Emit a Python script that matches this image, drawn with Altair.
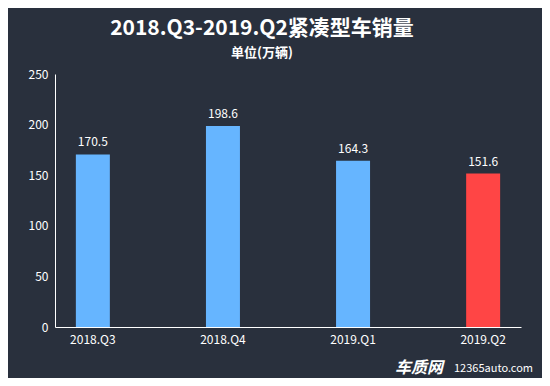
import altair as alt
import pandas as pd

quarters = ["2018.Q3", "2018.Q4", "2019.Q1", "2019.Q2"]
sales = [170.5, 198.6, 164.3, 151.6]
bar_colors = ["#66b5ff", "#66b5ff", "#66b5ff", "#ff4545"]
y_ticks = [0, 50, 100, 150, 200, 250]

df = pd.DataFrame({"quarter": quarters, "sales": sales, "color": bar_colors})

FONT = "Noto Sans CJK SC"
BG = "#29303d"

x_enc = alt.X("quarter:N", sort=quarters, title=None,
              scale=alt.Scale(paddingInner=0.738, paddingOuter=0.16),
              axis=alt.Axis(labelAngle=0, labelColor="#ffffff", labelFontSize=12,
                            labelFont=FONT, domainColor="#ffffff", domainWidth=1,
                            ticks=False, labelPadding=7))
y_enc = alt.Y("sales:Q", title=None,
              scale=alt.Scale(domain=[0, 250], nice=False),
              axis=alt.Axis(values=y_ticks, labelColor="#ffffff", labelFontSize=12,
                            labelFont=FONT, domainColor="#ffffff", domainWidth=1,
                            ticks=False, grid=False, labelPadding=7))

bars = alt.Chart(df).mark_bar(size=34).encode(
    x=x_enc, y=y_enc,
    color=alt.Color("color:N", scale=None),
)

labels = alt.Chart(df).mark_text(baseline="bottom", dy=-5, color="#ffffff",
                                 fontSize=12, font=FONT).encode(
    x=alt.X("quarter:N", sort=quarters),
    y="sales:Q",
    text=alt.Text("sales:Q", format=".1f"),
)

wm_df = pd.DataFrame({"t": ["车质网"], "u": ["12365auto.com"]})
wm1 = alt.Chart(wm_df).mark_text(align="left", baseline="alphabetic", color="#ffffff",
                                 fontSize=16, fontWeight="bold", fontStyle="italic",
                                 font=FONT).encode(
    x=alt.value(340), y=alt.value(299), text="t:N")
wm2 = alt.Chart(wm_df).mark_text(align="left", baseline="alphabetic", color="#ffffff",
                                 fontSize=11, font=FONT).encode(
    x=alt.value(399), y=alt.value(298), text="u:N")

chart = alt.layer(bars, labels, wm1, wm2).properties(
    width=466, height=253,
    title=alt.TitleParams(
        text="2018.Q3-2019.Q2紧凑型车销量",
        subtitle="单位(万辆)",
        anchor="middle", dx=-26,
        color="#ffffff", subtitleColor="#ffffff",
        font=FONT, subtitleFont=FONT,
        fontSize=21, fontWeight="bold",
        subtitleFontSize=13, subtitleFontWeight="bold",
        subtitlePadding=8, offset=8,
    ),
    autosize=alt.AutoSizeParams(type="none"),
    padding={"left": 47, "top": 66, "right": 21, "bottom": 51},
    background=BG,
).configure_view(stroke=None)

chart.save("out.html", embed_options={"renderer": "svg", "actions": False})
